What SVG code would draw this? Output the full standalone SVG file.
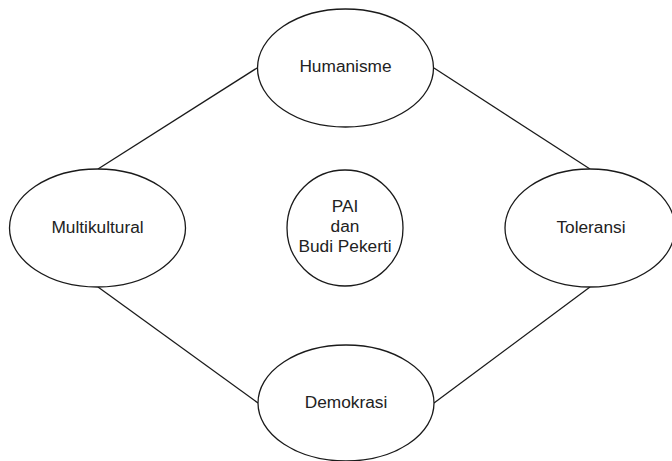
<svg xmlns="http://www.w3.org/2000/svg" width="672" height="461" viewBox="0 0 672 461">
<style>
.node{fill:#ffffff;stroke:#1a1a1a;stroke-width:1.3}
.lbl{font-family:"Liberation Sans",Arial,sans-serif;font-size:17.3px;fill:#222222;text-anchor:middle}
.edge{stroke:#1a1a1a;stroke-width:1.3;fill:none}
</style>
<rect width="672" height="461" fill="#ffffff"/>
<g id="connectors">
<line class="edge" x1="98" y1="169" x2="257" y2="68"/>
<line class="edge" x1="434" y1="68" x2="590" y2="169"/>
<line class="edge" x1="98" y1="287" x2="258" y2="403"/>
<line class="edge" x1="590" y1="287" x2="434" y2="403"/>
</g>
<g id="humanisme">
<ellipse class="node" cx="345.5" cy="68" rx="88" ry="59"/>
<text class="lbl" x="345.5" y="72">Humanisme</text>
</g>
<g id="multikultural">
<ellipse class="node" cx="97.5" cy="228" rx="88" ry="59"/>
<text class="lbl" x="97.5" y="233">Multikultural</text>
</g>
<g id="toleransi">
<ellipse class="node" cx="590" cy="228" rx="85" ry="59"/>
<text class="lbl" x="591" y="233">Toleransi</text>
</g>
<g id="demokrasi">
<ellipse class="node" cx="346" cy="403" rx="88" ry="58"/>
<text class="lbl" x="346" y="408">Demokrasi</text>
</g>
<g id="pai">
<circle class="node" cx="345" cy="228" r="58"/>
<text class="lbl" x="345" y="212">PAI</text>
<text class="lbl" x="345" y="232">dan</text>
<text class="lbl" x="345" y="252">Budi Pekerti</text>
</g>
</svg>
